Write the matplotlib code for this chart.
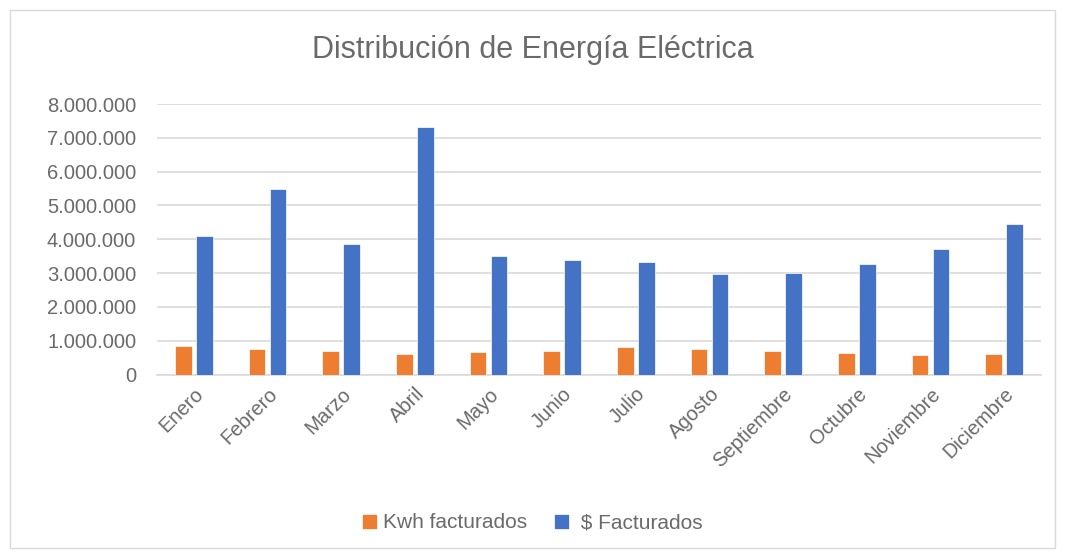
import matplotlib.pyplot as plt
import numpy as np
from matplotlib.patches import Rectangle
from matplotlib.ticker import FuncFormatter

meses = ['Enero', 'Febrero', 'Marzo', 'Abril', 'Mayo', 'Junio', 'Julio',
         'Agosto', 'Septiembre', 'Octubre', 'Noviembre', 'Diciembre']
kwh_facturados = [830000, 750000, 690000, 620000, 680000, 700000, 800000,
                  740000, 690000, 640000, 590000, 620000]
pesos_facturados = [4100000, 5480000, 3860000, 7320000, 3500000, 3380000, 3340000,
                    2970000, 2990000, 3260000, 3700000, 4440000]

plt.rcParams['font.family'] = ['Liberation Sans', 'DejaVu Sans']
gris = '#6a6a6a'

fig = plt.figure(figsize=(10.65, 5.56), dpi=100)
ax = fig.add_axes([157 / 1065, 1 - 374.5 / 556, 884 / 1065, 270.5 / 556])

x = np.arange(len(meses))
ancho = 0.225
ax.bar(x - 0.142, kwh_facturados, ancho, color='#ED7D31', edgecolor='white',
       linewidth=0.5, label='Kwh facturados', zorder=3)
ax.bar(x + 0.142, pesos_facturados, ancho, color='#4472C4', edgecolor='white',
       linewidth=0.5, label=' $ Facturados', zorder=3)

ax.set_xlim(-0.5, len(meses) - 0.5)
ax.set_ylim(0, 8000000)
ax.set_yticks(np.arange(0, 8000001, 1000000))
ax.yaxis.set_major_formatter(FuncFormatter(lambda v, p: f'{int(v):,}'.replace(',', '.')))
ax.grid(axis='y', color='#d9d9d9', linewidth=1.2, zorder=0)
for s in ['top', 'right', 'left']:
    ax.spines[s].set_visible(False)
ax.spines['bottom'].set_color('#d9d9d9')
ax.spines['bottom'].set_linewidth(1.2)
ax.tick_params(axis='both', length=0, colors=gris, labelsize=14.5)
ax.tick_params(axis='y', pad=15)
ax.tick_params(axis='x', pad=7)
ax.set_xticks(x)
ax.set_xticklabels(meses, rotation=45, ha='right', rotation_mode='anchor')

fig.text(0.5, 1 - 50 / 556, 'Distribución de Energía Eléctrica', ha='center',
         va='center', fontsize=22, color=gris)

leg = fig.legend(loc='center', bbox_to_anchor=(0.5, 1 - 523 / 556), ncol=2,
                 frameon=False, fontsize=15, handlelength=0.7, handleheight=0.7,
                 columnspacing=1.3, handletextpad=0.3)
for t in leg.get_texts():
    t.set_color(gris)

fig.patches.append(Rectangle((10 / 1065, 8 / 556), 1045 / 1065, 538 / 556,
                             transform=fig.transFigure, fill=False,
                             edgecolor='#d9d9d9', linewidth=1))

fig.savefig('out.png', dpi=100)
